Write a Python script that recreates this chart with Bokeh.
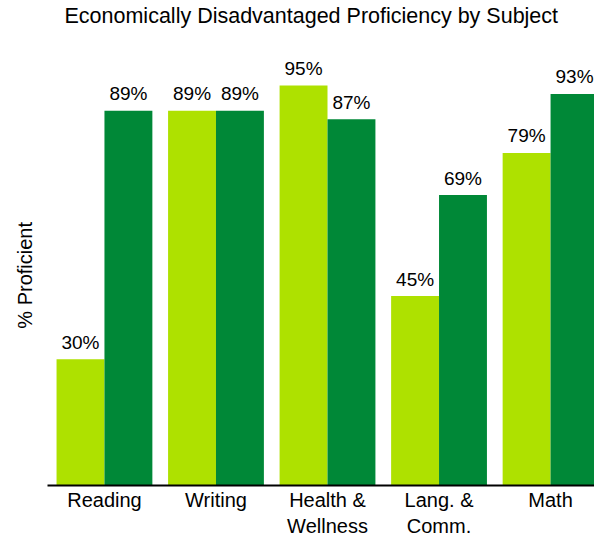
from bokeh.plotting import figure
from bokeh.models import Range1d, FixedTicker, ColumnDataSource, Title
from bokeh.core.properties import value
from bokeh.embed import file_html
from bokeh.resources import INLINE

title_text = "Economically Disadvantaged Proficiency by Subject"
y_label = "% Proficient"
categories = ["Reading", "Writing", "Health &\nWellness", "Lang. &\nComm.", "Math"]
series_a = [30, 89, 95, 45, 79]
series_b = [89, 89, 87, 69, 93]
color_a = "#AEE100"
color_b = "#008837"

FONT = "Liberation Sans"
idx = list(range(len(categories)))
off = 0.2148
bw = 0.4296

p = figure(width=594, height=540, output_backend="svg", toolbar_location=None,
           x_range=Range1d(-0.5107, 4.394), y_range=Range1d(0, 103.8),
           min_border_left=47, min_border_right=0, min_border_top=48, min_border_bottom=55)
p.title = None

spacer = Title(text=" ", text_font_size="1px", standoff=18, text_color="white")
p.add_layout(spacer, "above")
main_title = Title(text=title_text, text_font=FONT, text_font_size="21.5px",
                   text_font_style="normal", align="left", offset=17, standoff=0,
                   text_color="#000000")
p.add_layout(main_title, "above")

src_a = ColumnDataSource(dict(x=[i - off for i in idx], top=series_a,
                              lab=[f"{v}%" for v in series_a]))
src_b = ColumnDataSource(dict(x=[i + off for i in idx], top=series_b,
                              lab=[f"{v}%" for v in series_b]))

p.vbar(x="x", top="top", width=bw, bottom=0, source=src_a, color=color_a, line_color=None)
p.vbar(x="x", top="top", width=bw, bottom=0, source=src_b, color=color_b, line_color=None)

for s in (src_a, src_b):
    p.text(x="x", y="top", text="lab", source=s, y_offset=-17,
           text_align="center", text_baseline="alphabetic",
           text_font=value(FONT), text_font_size="19px", text_color="#000000")

p.xgrid.visible = False
p.ygrid.visible = False
p.outline_line_color = None

p.xaxis.ticker = FixedTicker(ticks=idx)
p.xaxis.major_label_overrides = {i: c for i, c in zip(idx, categories)}
p.xaxis.axis_line_color = "#000000"
p.xaxis.axis_line_width = 2
p.xaxis.major_tick_line_color = None
p.xaxis.minor_tick_line_color = None
p.xaxis.major_tick_out = 0
p.xaxis.major_tick_in = 0
p.xaxis.major_label_standoff = 3
p.xaxis.major_label_text_font = FONT
p.xaxis.major_label_text_font_size = "20px"
p.xaxis.major_label_text_color = "#000000"
p.xaxis.major_label_text_line_height = 1.2

p.yaxis.ticker = FixedTicker(ticks=[])
p.yaxis.axis_line_color = None
p.yaxis.major_tick_line_color = None
p.yaxis.minor_tick_line_color = None
p.yaxis.major_label_text_font_size = "0px"
p.yaxis.axis_label = y_label + "\u00a0\u00a0\u00a0"
p.yaxis.axis_label_text_font = FONT
p.yaxis.axis_label_text_font_size = "20px"
p.yaxis.axis_label_text_font_style = "normal"
p.yaxis.axis_label_text_color = "#000000"
p.yaxis.axis_label_standoff = 12

p.background_fill_color = "white"
p.border_fill_color = "white"

open("out.html", "w").write(file_html(p, INLINE))
